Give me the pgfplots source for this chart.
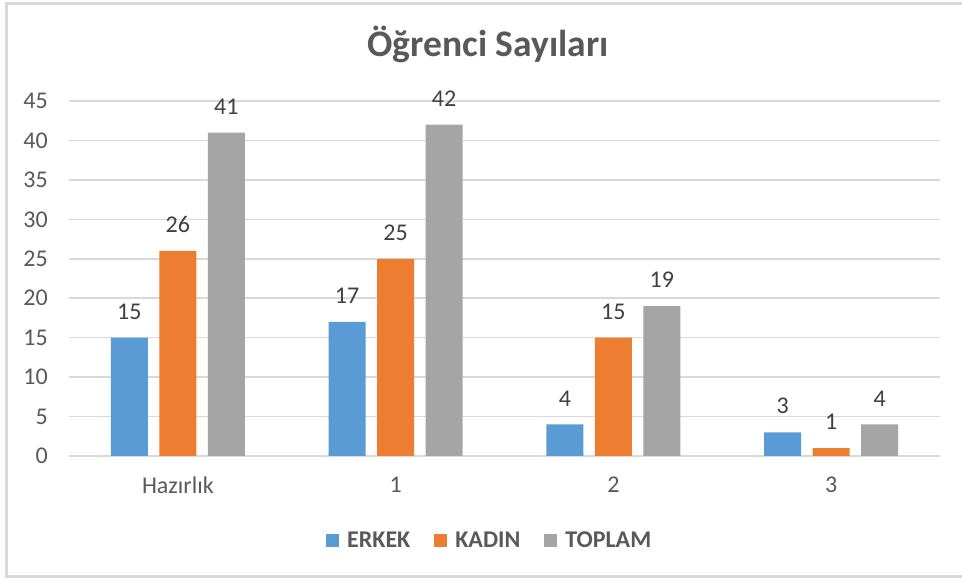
\documentclass[border=0pt]{standalone}
\usepackage{fontspec}
\setmainfont{Carlito}
\usepackage{pgfplots}
\pgfplotsset{compat=1.18}
\definecolor{cErkek}{HTML}{5B9BD5}
\definecolor{cKadin}{HTML}{ED7D31}
\definecolor{cToplam}{HTML}{A5A5A5}
\definecolor{cGrid}{HTML}{D9D9D9}
\definecolor{cText}{HTML}{595959}
\definecolor{cLabel}{HTML}{404040}
\definecolor{cFrame}{HTML}{D9D9D9}
\begin{document}
\begin{tikzpicture}[x=1bp,y=1bp]
\useasboundingbox (0,0) rectangle (962,581);
\fill[white] (0,0) rectangle (962,581);
\draw[cFrame, line width=3bp] (975,577.5) -- (6.5,577.5) -- (6.5,4.5) -- (975,4.5);
\node[anchor=base, font=\fontsize{37.5bp}{42bp}\selectfont\bfseries, text=cText] at (488,524) {Öğrenci Sayıları};
\begin{axis}[
  at={(69bp,125bp)}, anchor=south west,
  scale only axis, width=871bp, height=355bp,
  xmin=-0.5, xmax=3.5, ymin=0, ymax=45,
  ytick={0,5,...,45},
  xtick={0,1,2,3},
  xticklabels={Hazırlık,1,2,3},
  /pgf/number format/assume math mode=true,
  ymajorgrids, grid style={cGrid, line width=1.5bp},
  axis line style={draw=none},
  major tick length=0pt,
  tick style={draw=none},
  ticklabel style={font=\fontsize{24bp}{28bp}\selectfont, text=cText},
  yticklabel style={anchor=east, inner sep=0pt, xshift=-21bp},
  xticklabel style={anchor=north, inner sep=0pt, yshift=-21bp},
  ybar=11.5bp, bar width=37bp,
  nodes near coords,
  every node near coord/.append style={font=\fontsize{24bp}{28bp}\selectfont, text=cLabel, anchor=south, inner sep=0pt, yshift=18bp},
  legend columns=3,
  legend style={at={(0.483,-0.237)}, anchor=center, draw=none, fill=none,
    font=\fontsize{24bp}{28bp}\selectfont\bfseries, text=cText,
    /tikz/every odd column/.append style={column sep=6bp},
    /tikz/every even column/.append style={column sep=22bp}},
  legend image code/.code={\fill[#1] (0bp,-6.5bp) rectangle (13bp,6.5bp);},
]
\addplot+[fill=cErkek, draw=none] coordinates {(0,15) (1,17) (2,4) (3,3)};
\addplot+[fill=cKadin, draw=none] coordinates {(0,26) (1,25) (2,15) (3,1)};
\addplot+[fill=cToplam, draw=none] coordinates {(0,41) (1,42) (2,19) (3,4)};
\legend{ERKEK,KADIN,TOPLAM}
\end{axis}
\end{tikzpicture}
\end{document}
